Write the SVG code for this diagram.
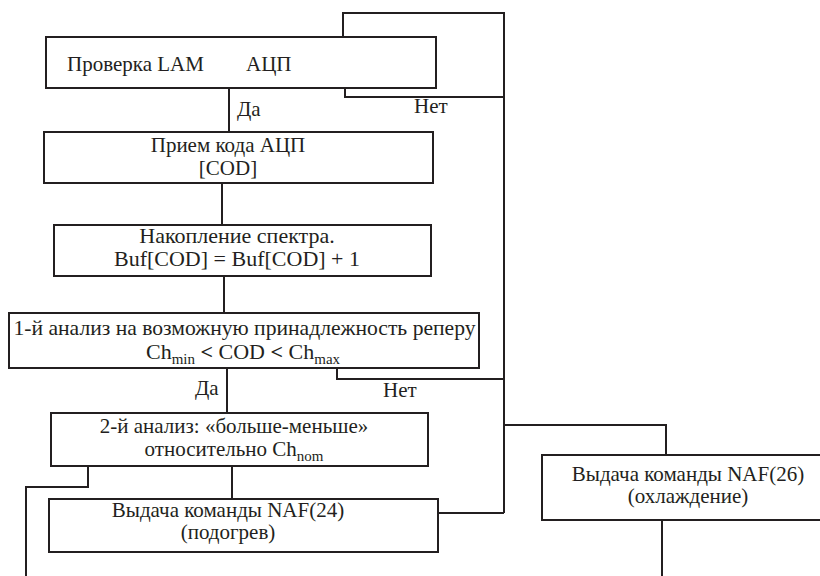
<svg xmlns="http://www.w3.org/2000/svg" width="820" height="576" viewBox="0 0 820 576">
<style>
.box{fill:#fff;stroke:#231f20;stroke-width:2}
.ln{fill:none;stroke:#231f20;stroke-width:2}
.t{font-size:21px;fill:#231f20}
.c{text-anchor:middle}
.big{font-size:22px}
.sub{font-size:15px}
.lt{font-weight:bold}
</style>
<rect width="820" height="576" fill="#fff"/>
<g font-family="Liberation Serif, DejaVu Serif, serif" class="t">
<g id="connectors">
<polyline class="ln" points="343,37 343,13 504,13 504,513"/>
<polyline class="ln" points="345,88 345,97 504,97"/>
<line class="ln" x1="229" y1="88" x2="229" y2="132"/>
<line class="ln" x1="222" y1="183" x2="222" y2="225"/>
<line class="ln" x1="224" y1="276" x2="224" y2="313"/>
<polyline class="ln" points="337,368 337,379 504,379"/>
<line class="ln" x1="227" y1="368" x2="227" y2="413"/>
<polyline class="ln" points="88,466 88,487 26,487 26,576"/>
<line class="ln" x1="232" y1="466" x2="232" y2="499"/>
<polyline class="ln" points="438,513 504,513"/>
<polyline class="ln" points="504,425 666,425 666,455"/>
<line class="ln" x1="662" y1="520" x2="662" y2="576"/>
<text x="237" y="116">Да</text>
<text x="414" y="113">Нет</text>
<text x="195" y="395">Да</text>
<text x="383" y="397">Нет</text>
</g>
<g id="n1">
<rect class="box" x="46" y="37" width="390" height="51"/>
<text x="67" y="71">Проверка LAM</text>
<text x="246" y="71">АЦП</text>
</g>
<g id="n2">
<rect class="box" x="44" y="132" width="389" height="51"/>
<text class="c" x="228" y="152">Прием кода АЦП</text>
<text class="c" x="228" y="175">[COD]</text>
</g>
<g id="n3">
<rect class="box" x="54" y="225" width="377" height="51"/>
<text class="c big" x="237" y="243">Накопление спектра.</text>
<text class="c big" x="237" y="266">Buf[COD] = Buf[COD] + 1</text>
</g>
<g id="n4">
<rect class="box" x="9" y="313" width="470" height="55"/>
<text class="c big" x="244.5" y="335" textLength="462" lengthAdjust="spacingAndGlyphs">1-й анализ на возможную принадлежность реперу</text>
<text class="c big" x="243" y="359">Ch<tspan class="sub" dy="5">min</tspan><tspan dy="-5"> </tspan><tspan class="lt">&lt;</tspan><tspan> COD </tspan><tspan class="lt">&lt;</tspan><tspan> Ch</tspan><tspan class="sub" dy="5">max</tspan></text>
</g>
<g id="n5">
<rect class="box" x="51" y="413" width="377" height="53"/>
<text class="c" x="234" y="433">2-й анализ: «больше-меньше»</text>
<text class="c" x="234" y="456">относительно Ch<tspan class="sub" dy="5">nom</tspan></text>
</g>
<g id="n6">
<rect class="box" x="49" y="499" width="389" height="53"/>
<text class="c" x="228" y="517">Выдача команды NAF(24)</text>
<text class="c" x="228" y="539">(подогрев)</text>
</g>
<g id="n7">
<rect class="box" x="542" y="455" width="290" height="65"/>
<text class="c" x="688" y="481">Выдача команды NAF(26)</text>
<text class="c" x="688" y="503">(охлаждение)</text>
</g>
</g>
</svg>
